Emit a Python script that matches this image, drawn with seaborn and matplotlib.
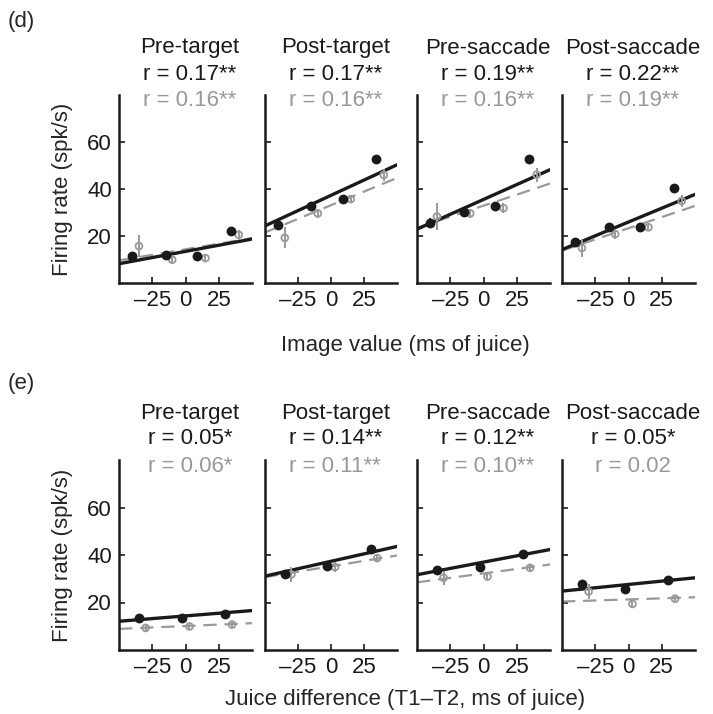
import numpy as np
import pandas as pd
import matplotlib
matplotlib.use("Agg")
import matplotlib.pyplot as plt
import seaborn as sns

# ---- data ----
epochs = ["Pre-target", "Post-target", "Pre-saccade", "Post-saccade"]
x_range = [-50, 50]

# (d) image value, 4 bins
d_black_x = [-40, -15, 9, 34]
d_gray_x = [-35, -10, 15, 40]
d_black_y = [[11.7, 12.1, 11.3, 22.2],
             [24.6, 32.6, 35.9, 52.8],
             [25.5, 30.2, 32.8, 52.7],
             [17.6, 23.9, 23.7, 40.5]]
d_black_err = [[1.0, 0.8, 0.8, 1.0],
               [2.2, 1.0, 1.0, 1.0],
               [2.0, 1.0, 1.0, 1.0],
               [1.5, 1.0, 1.0, 1.0]]
d_gray_y = [[15.7, 9.9, 10.6, 20.5],
            [19.2, 29.6, 35.7, 46.0],
            [28.3, 29.6, 31.9, 46.1],
            [14.9, 20.8, 23.7, 34.9]]
d_gray_err = [[4.6, 1.5, 1.2, 2.0],
              [4.5, 2.0, 1.5, 2.5],
              [5.6, 2.0, 2.0, 3.0],
              [4.0, 2.0, 1.5, 2.5]]
d_black_fit = [[8.2, 18.7], [24.3, 50.3], [22.9, 48.2], [14.2, 37.7]]
d_gray_fit = [[9.6, 19.1], [21.5, 44.7], [23.5, 42.3], [13.8, 32.8]]
d_r_black = ["r = 0.17**", "r = 0.17**", "r = 0.19**", "r = 0.22**"]
d_r_gray = ["r = 0.16**", "r = 0.16**", "r = 0.16**", "r = 0.19**"]

# (e) juice difference, 3 bins
e_black_x = [-35, -3, 30]
e_gray_x = [-30, 3, 35]
e_black_y = [[13.6, 13.6, 15.3],
             [32.2, 35.3, 42.4],
             [33.5, 34.9, 40.5],
             [27.6, 25.5, 29.6]]
e_black_err = [[0.8, 0.8, 0.8],
               [1.0, 1.0, 1.0],
               [1.0, 1.0, 1.0],
               [1.0, 1.0, 1.0]]
e_gray_y = [[9.3, 9.9, 10.7],
            [31.8, 34.9, 38.7],
            [30.4, 30.9, 34.6],
            [24.6, 19.4, 21.6]]
e_gray_err = [[1.5, 1.2, 1.2],
              [3.0, 2.0, 1.5],
              [3.0, 1.5, 1.5],
              [3.0, 1.5, 1.0]]
e_black_fit = [[12.1, 16.6], [31.1, 43.6], [31.7, 42.3], [24.8, 30.4]]
e_gray_fit = [[8.9, 11.3], [30.7, 39.8], [28.5, 36.0], [20.4, 22.2]]
e_r_black = ["r = 0.05*", "r = 0.14**", "r = 0.12**", "r = 0.05*"]
e_r_gray = ["r = 0.06*", "r = 0.11**", "r = 0.10**", "r = 0.02"]

xticks = [-25, 0, 25]
xticklabels = ["\u201325", "0", "25"]
yticks = [20, 40, 60]

BLACK = "#1a1a1a"
GRAY = "#999999"
FS = 16

sns.set_style("ticks")
plt.rcParams["font.family"] = ["Liberation Sans", "DejaVu Sans"]

W, H = 713, 714
fig = plt.figure(figsize=(W / 100, H / 100), dpi=100)

cols = [(119, 252), (265, 397), (417, 550), (562, 695)]
rows = [(95, 283), (460, 650)]


def add_ax(col, row):
    x0, x1 = cols[col]
    y0, y1 = rows[row]
    return fig.add_axes([x0 / W, 1 - y1 / H, (x1 - x0) / W, (y1 - y0) / H])


def draw_panel(ax, bx, by, be, gx, gy, ge, bfit, gfit):
    sns.lineplot(x=x_range, y=gfit, ax=ax, color=GRAY, lw=1.6,
                 dashes=False, zorder=2).lines[-1].set_dashes([6, 3.5])
    sns.lineplot(x=x_range, y=bfit, ax=ax, color=BLACK, lw=2.4, zorder=3)
    ax.errorbar(gx, gy, yerr=ge, fmt="none", ecolor=GRAY, elinewidth=1.4,
                capsize=0, zorder=4)
    ax.errorbar(bx, by, yerr=be, fmt="none", ecolor=BLACK, elinewidth=1.4,
                capsize=0, zorder=5)
    sns.scatterplot(x=gx, y=gy, ax=ax, marker="o", s=24, facecolor="none",
                    edgecolor=GRAY, linewidth=1.3, zorder=6)
    sns.scatterplot(x=bx, y=by, ax=ax, marker="o", s=50, color=BLACK,
                    edgecolor=BLACK, linewidth=0, zorder=7)
    ax.set_xlim(x_range)
    ax.set_ylim(0, 80)
    ax.set_xticks(xticks)
    ax.set_xticklabels(xticklabels)
    ax.set_yticks(yticks)
    sns.despine(ax=ax)
    for s in ["left", "bottom"]:
        ax.spines[s].set_linewidth(1.8)
        ax.spines[s].set_color(BLACK)
    ax.tick_params(direction="in", length=4, width=1.2, colors=BLACK,
                   labelsize=FS, pad=5)


row_sets = [
    (d_black_x, d_black_y, d_black_err, d_gray_x, d_gray_y, d_gray_err,
     d_black_fit, d_gray_fit, d_r_black, d_r_gray),
    (e_black_x, e_black_y, e_black_err, e_gray_x, e_gray_y, e_gray_err,
     e_black_fit, e_gray_fit, e_r_black, e_r_gray),
]

for r, (bx, by, be, gx, gy, ge, bfit, gfit, rb, rg) in enumerate(row_sets):
    y0 = rows[r][0]
    for c in range(4):
        ax = add_ax(c, r)
        draw_panel(ax, bx, by[c], be[c], gx, gy[c], ge[c], bfit[c], gfit[c])
        if c == 0:
            ax.set_ylabel("Firing rate (spk/s)", fontsize=FS, labelpad=10)
        else:
            ax.set_yticklabels([])
        ax.set_xlabel("")
        xc = (cols[c][0] + cols[c][1]) / 2 / W + 0.006
        fig.text(xc, 1 - (y0 - 47) / H, epochs[c], ha="center", va="center",
                 fontsize=FS, color=BLACK)
        fig.text(xc, 1 - (y0 - 21) / H, rb[c], ha="center", va="center",
                 fontsize=FS, color=BLACK)
        fig.text(xc, 1 - (y0 + 6) / H, rg[c], ha="center", va="center",
                 fontsize=FS, color=GRAY)

fig.text(8 / W, 1 - 22 / H, "(d)", ha="left", va="center", fontsize=FS)
fig.text(8 / W, 1 - 383 / H, "(e)", ha="left", va="center", fontsize=FS)
fig.text(405 / W, 1 - 345 / H, "Image value (ms of juice)", ha="center",
         va="center", fontsize=FS)
fig.text(405 / W, 1 - 700 / H, "Juice difference (T1\u2013T2, ms of juice)",
         ha="center", va="center", fontsize=FS)

fig.savefig("out.png", dpi=100)
